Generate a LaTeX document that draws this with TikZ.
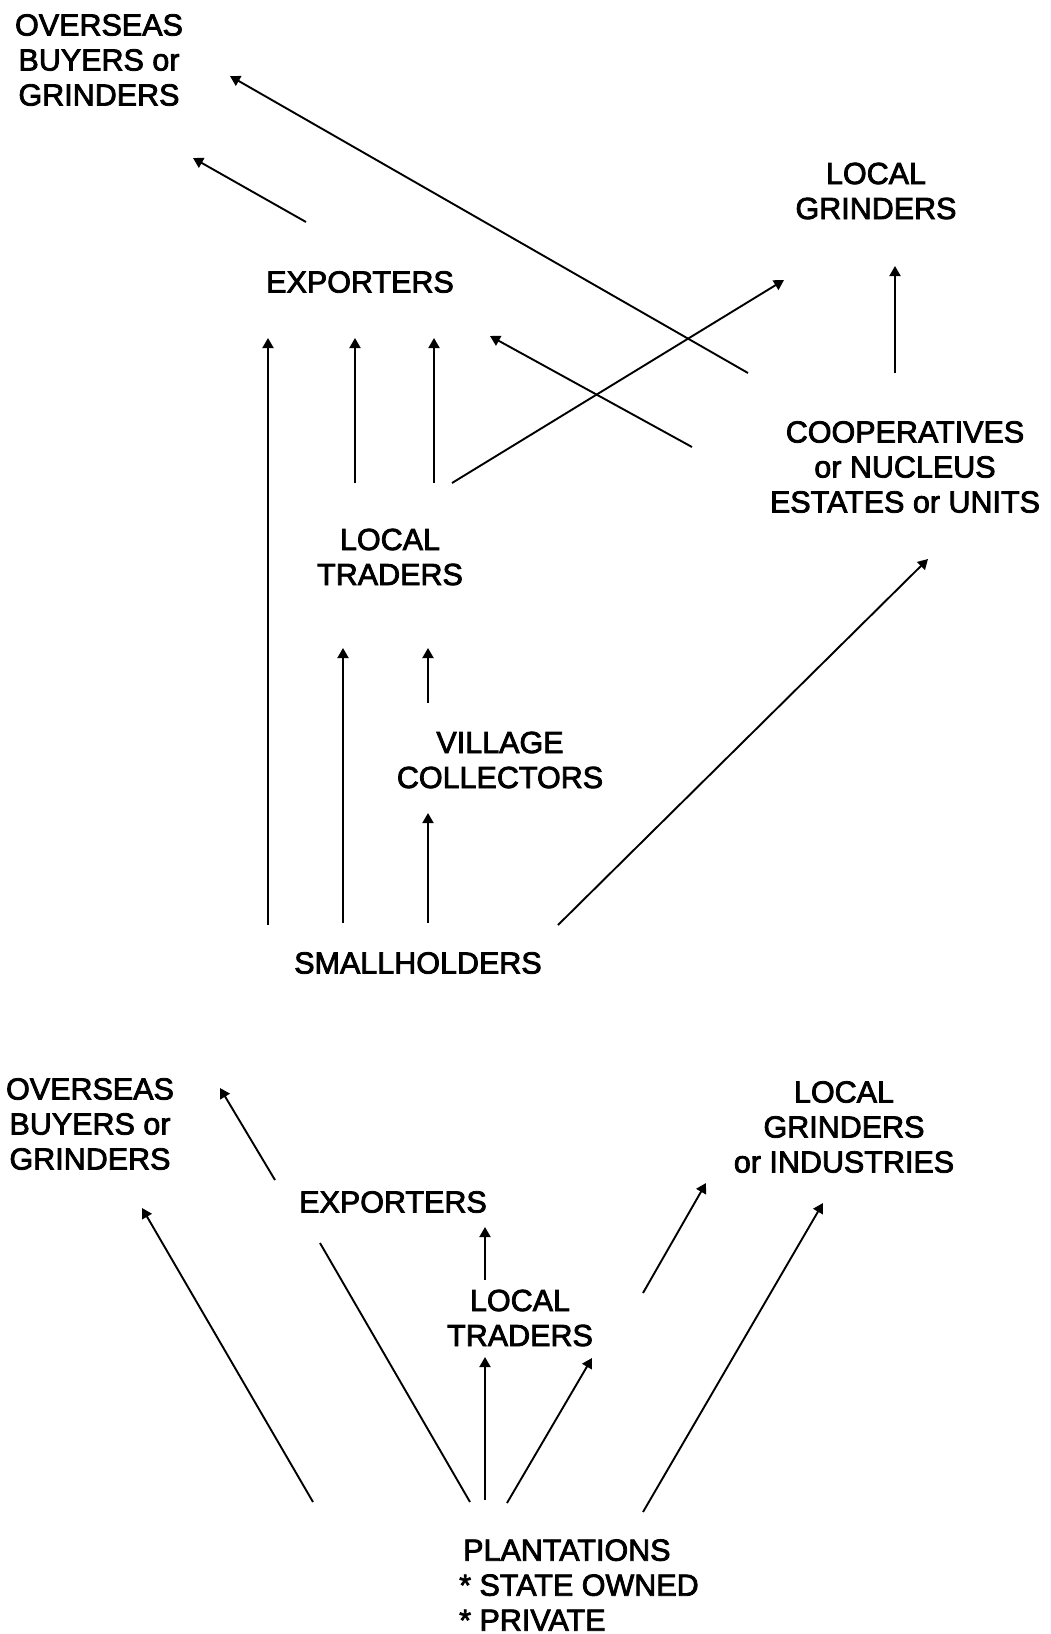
\documentclass[tikz,border=0pt]{standalone}
\usepackage{fontspec}
\setmainfont{Liberation Sans}
\usepackage{tikz}
\usetikzlibrary{arrows.meta}

\begin{document}
\begin{tikzpicture}[x=1pt,y=-1pt,
  lbl/.style ={inner sep=0pt,align=center,
               font=\fontsize{30.5}{35}\selectfont\addfontfeature{FakeBold=2.6}},
  arr/.style ={-{Triangle[length=10pt,width=11pt]},line width=1.9pt},
  ln/.style  ={line width=1.9pt},
]
\useasboundingbox (0,0) rectangle (1051,1634);

% smallholder channels
\node[lbl] (ovsT) at ( 99, 60) {OVERSEAS\\BUYERS or\\GRINDERS};
\node[lbl] (expT) at (360,282) {EXPORTERS};
\node[lbl] (lgT)  at (876,191) {LOCAL\\GRINDERS};
\node[lbl] (coop) at (905,467) {COOPERATIVES\\or NUCLEUS\\ESTATES or UNITS};
\node[lbl] (ltT)  at (390,557) {LOCAL\\TRADERS};
\node[lbl] (vc)   at (500,760) {VILLAGE\\COLLECTORS};
\node[lbl] (sh)   at (418,963) {SMALLHOLDERS};

\draw[arr] ([shift={(-54,-60)}]expT.center) -- ([shift={(94,98)}]ovsT.center);
\draw[arr] ([shift={(-157,-94)}]coop.center) -- ([shift={(131,16)}]ovsT.center);
\draw[arr] ([shift={(-10,-94)}]coop.center)  -- ([shift={(19,75)}]lgT.center);
\draw[arr] ([shift={(-213,-20)}]coop.center) -- ([shift={(130,54)}]expT.center);
\draw[arr] ([shift={(62,-74)}]ltT.center)    -- ([shift={(-92,89)}]lgT.center);
\draw[arr] ([shift={(-150,-38)}]sh.center)   -- ([shift={(-92,56)}]expT.center);
\draw[arr] ([shift={(-35,-74)}]ltT.center)   -- ([shift={(-5,56)}]expT.center);
\draw[arr] ([shift={(44,-74)}]ltT.center)    -- ([shift={(74,56)}]expT.center);
\draw[arr] ([shift={(-75,-40)}]sh.center)    -- ([shift={(-47,91)}]ltT.center);
\draw[arr] ([shift={(-72,-57)}]vc.center)    -- ([shift={(38,91)}]ltT.center);
\draw[arr] ([shift={(10,-40)}]sh.center)     -- ([shift={(-72,53)}]vc.center);
\draw[arr] ([shift={(140,-38)}]sh.center)    -- ([shift={(23,92)}]coop.center);

% plantation channels
\node[lbl] (ovsB) at ( 90,1124) {OVERSEAS\\BUYERS or\\GRINDERS};
\node[lbl] (expB) at (393,1202) {EXPORTERS};
\node[lbl] (lgB)  at (844,1127) {LOCAL\\GRINDERS\\or INDUSTRIES};
\node[lbl] (ltB)  at (520,1318) {LOCAL\\TRADERS};
\node[lbl,align=left,anchor=west] (pl) at (459,1585)
  {\hspace{4pt}PLANTATIONS\\* STATE OWNED\\* PRIVATE};

\draw[arr] ([shift={(-118,-22)}]expB.center) -- ([shift={(130,-36)}]ovsB.center);
\draw[arr] ([shift={(-146,-83)}]pl.west)     -- ([shift={(52,84)}]ovsB.center);
\draw[ln]  ([shift={(11,-83)}]pl.west)       -- ([shift={(-73,41)}]expB.center);
\draw[arr] ([shift={(26,-85)}]pl.west)       -- ([shift={(-35,39)}]ltB.center);
\draw[arr] ([shift={(48,-82)}]pl.west)       -- ([shift={(72,40)}]ltB.center);
\draw[arr] ([shift={(-35,-38)}]ltB.center)   -- ([shift={(92,25)}]expB.center);
\draw[arr] ([shift={(123,-25)}]ltB.center)   -- ([shift={(-138,56)}]lgB.center);
\draw[arr] ([shift={(184,-73)}]pl.west)      -- ([shift={(-21,76)}]lgB.center);
\end{tikzpicture}
\end{document}
